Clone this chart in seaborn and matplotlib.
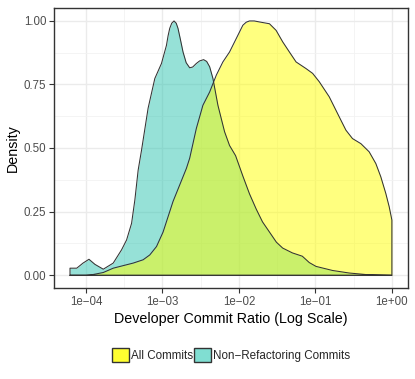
import numpy as np
import pandas as pd
import matplotlib
matplotlib.use("Agg")
import matplotlib.pyplot as plt
from matplotlib.patches import Patch
import seaborn as sns

# density curves (x = log10 of commit ratio, y = scaled density)
nonref_x = [-4.209, -4.121, -4.039, -3.961, -3.883, -3.774, -3.644, -3.535, -3.469,
            -3.404, -3.361, -3.318, -3.274, -3.188, -3.100, -3.013, -2.948, -2.927,
            -2.905, -2.879, -2.849, -2.820, -2.797, -2.768, -2.731, -2.690, -2.644,
            -2.605, -2.557, -2.514, -2.462, -2.422, -2.383, -2.340, -2.275,
            -2.188, -2.123, -2.044, -1.949, -1.862, -1.774, -1.692, -1.601, -1.510,
            -1.428, -1.301, -1.171, -1.080, -0.992, -0.776, -0.558, -0.340, 0.0]
nonref_y = [0.028, 0.028, 0.048, 0.063, 0.043, 0.024, 0.048, 0.100, 0.139,
            0.204, 0.296, 0.413, 0.491, 0.656, 0.773, 0.832, 0.903, 0.940,
            0.970, 0.990, 0.999, 0.990, 0.970, 0.930, 0.877, 0.835, 0.815,
            0.818, 0.832, 0.842, 0.847, 0.840, 0.819, 0.773, 0.668,
            0.564, 0.510, 0.470, 0.390, 0.320, 0.260, 0.210, 0.170, 0.130,
            0.107, 0.088, 0.075, 0.050, 0.035, 0.019, 0.009, 0.003, 0.0]

all_x = [-4.209, -4.0, -3.909, -3.774, -3.644, -3.514, -3.383, -3.253, -3.166,
         -3.078, -2.992, -2.862, -2.687, -2.644, -2.557, -2.471, -2.383, -2.296,
         -2.210, -2.123, -2.035, -1.949, -1.905, -1.862, -1.800, -1.731, -1.601,
         -1.514, -1.428, -1.340, -1.253, -1.123, -1.036, -0.949, -0.819, -0.688,
         -0.601, -0.515, -0.405, -0.297, -0.210, -0.145, -0.080, -0.035, 0.0]
all_y = [0.0, 0.0, 0.003, 0.011, 0.028, 0.038, 0.048, 0.061, 0.080,
         0.113, 0.170, 0.290, 0.420, 0.460, 0.577, 0.668, 0.720, 0.786,
         0.838, 0.877, 0.930, 0.982, 0.994, 0.999, 0.999, 0.995, 0.988,
         0.962, 0.917, 0.877, 0.838, 0.812, 0.793, 0.760, 0.701, 0.622,
         0.570, 0.537, 0.517, 0.485, 0.439, 0.387, 0.322, 0.269, 0.217]

x_breaks = [-4, -3, -2, -1, 0]
x_labels = ["1e\u221204", "1e\u221203", "1e\u221202", "1e\u221201", "1e+00"]
y_breaks = [0.0, 0.25, 0.5, 0.75, 1.0]
y_labels = ["0.00", "0.25", "0.50", "0.75", "1.00"]

groups = ["All Commits", "Non\u2212Refactoring Commits"]
fills = {"All Commits": "#FFFF00", "Non\u2212Refactoring Commits": "#2EC4B0"}
keys = {"All Commits": "#FFFF30", "Non\u2212Refactoring Commits": "#80DED2"}

sns.set_theme(style="white")
plt.rcParams["font.family"] = ["Liberation Sans", "DejaVu Sans"]

fig = plt.figure(figsize=(4.15, 3.79), dpi=100)
ax = fig.add_axes([0.130, 0.240, 0.853, 0.739])

def outline(xs, ys):
    # closed polygon like ggplot's old geom_density outline
    px = [xs[0]] + list(xs) + [xs[-1], xs[0]]
    py = [0.0] + list(ys) + [0.0, 0.0]
    return pd.DataFrame({"x": px, "y": py, "o": np.arange(len(px))})

# non-refactoring first, all commits on top
for name, xs, ys in [(groups[1], nonref_x, nonref_y), (groups[0], all_x, all_y)]:
    ax.fill_between(xs, 0, ys, color=fills[name], alpha=0.5, linewidth=0, zorder=2)
    df = outline(xs, ys)
    sns.lineplot(data=df, x="x", y="y", sort=False, estimator=None, color="#333333",
                 linewidth=0.75, ax=ax, zorder=3)

ax.set_xlim(-4.419, 0.21)
ax.set_ylim(-0.05, 1.05)

ax.set_xticks(x_breaks)
ax.set_xticklabels(x_labels)
ax.set_yticks(y_breaks)
ax.set_yticklabels(y_labels)
ax.set_xticks([-3.5, -2.5, -1.5, -0.5], minor=True)
ax.set_yticks([0.125, 0.375, 0.625, 0.875], minor=True)

ax.grid(True, which="major", color="#EBEBEB", linewidth=1.0, zorder=0)
ax.grid(True, which="minor", color="#F2F2F2", linewidth=0.6, zorder=0)
ax.set_axisbelow(True)

for s in ax.spines.values():
    s.set_color("#333333")
    s.set_linewidth(1.0)

ax.tick_params(axis="both", which="major", direction="out", length=3.5, width=0.8,
               color="#333333", labelsize=8.3, labelcolor="#4D4D4D", pad=2,
               bottom=True, left=True)
ax.tick_params(axis="both", which="minor", length=0)

ax.set_xlabel("Developer Commit Ratio (Log Scale)", fontsize=10.3, color="black", labelpad=3)
ax.set_ylabel("Density", fontsize=10.3, color="black", labelpad=3)

handles = [Patch(facecolor=keys[g], edgecolor="#333333", linewidth=1.0) for g in groups]
fig.legend(handles, groups, loc="center", bbox_to_anchor=(0.557, 0.063), ncol=2,
           frameon=False, fontsize=8.4, handlelength=1.45, handleheight=1.45,
           handletextpad=0.15, columnspacing=0.1, borderaxespad=0)

fig.savefig("out.png", dpi=100)
